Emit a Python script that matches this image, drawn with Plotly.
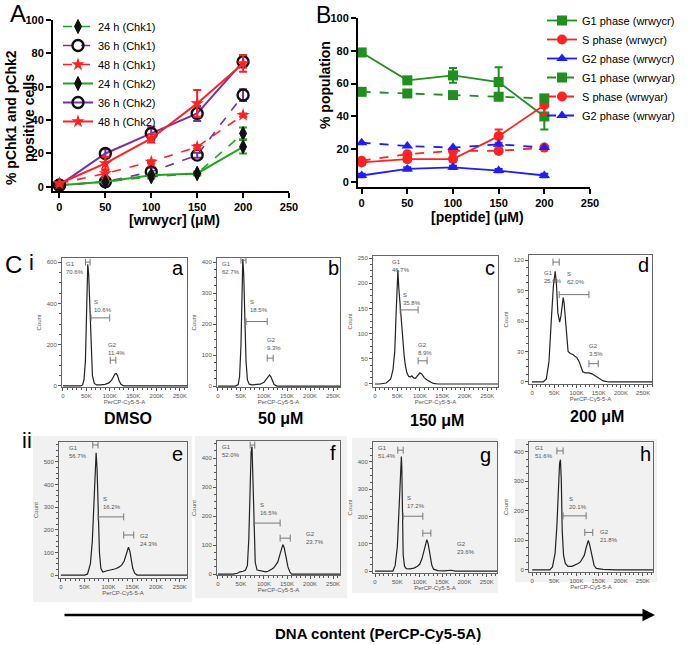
import plotly.graph_objects as go

W, H = 689, 645
FONT = "Arial, 'Liberation Sans', sans-serif"


def fx(p):
    return p / W


def fy(p):
    return 1 - p / H


# ---------------- panel A : % pChk1 / pChk2 positive cells
conc = [0, 50, 100, 150, 200]
chk1_24h = [1, 3, 6, 8, 32]
chk1_24h_err = [0, 0.5, 1, 1, 3.5]
chk1_36h = [1, 3, 9, 19, 55]
chk1_36h_err = [0, 1, 2.5, 1.5, 3.5]
chk1_48h = [2, 8, 15, 24, 43]
chk1_48h_err = [0, 2.5, 1, 1, 1]
chk2_24h = [1, 3, 7, 8, 24]
chk2_24h_err = [0, 0.5, 1, 1, 4]
chk2_36h = [1, 20, 32, 44, 75]
chk2_36h_err = [0, 2.5, 4, 4.5, 3.5]
chk2_48h = [2, 14, 29, 50, 74]
chk2_48h_err = [0, 4, 2.5, 8, 5]

# ---------------- panel B : % population per cell-cycle phase
peptide = [0, 50, 100, 150, 200]
g1_wrwycr = [79, 62, 65, 61, 40]
g1_wrwycr_err = [1.5, 1.5, 4.5, 9, 8]
s_wrwycr = [12, 14, 14, 28, 47]
s_wrwycr_err = [1.5, 1.5, 1.5, 4, 6]
g2_wrwycr = [4, 8, 9, 7, 4]
g2_wrwycr_err = [1, 1, 1, 1, 1]
g1_wrwyar = [55, 54, 53, 52, 51]
s_wrwyar = [13, 17, 19, 19, 21]
g2_wrwyar = [24, 22, 21, 23, 21]

# ---------------- panel C : DNA content histograms (x in K units, counts)
hist_a_k = [0, 38, 42, 45, 48, 50, 52, 53, 55, 57, 60, 63, 67, 72, 80, 90, 98, 104, 108, 111, 114, 117, 120, 124, 130, 150, 265]
hist_a_count = [0, 0, 5, 30, 120, 300, 520, 590, 540, 400, 180, 50, 12, 5, 5, 8, 15, 28, 45, 58, 60, 48, 25, 8, 0, 0, 0]
hist_b_k = [0, 38, 44, 47, 50, 52, 54, 56, 58, 61, 64, 68, 74, 82, 92, 100, 105, 109, 112, 115, 118, 122, 128, 140, 265]
hist_b_count = [0, 0, 5, 30, 130, 300, 410, 360, 220, 80, 20, 6, 4, 4, 6, 12, 22, 32, 36, 30, 16, 5, 0, 0, 0]
hist_c_k = [0, 10, 25, 35, 40, 44, 47, 50, 51, 53, 56, 58, 60, 62, 65, 68, 71, 75, 79, 82, 86, 90, 95, 100, 104, 110, 116, 123, 130, 140, 274]
hist_c_count = [0, 0, 2, 10, 28, 65, 140, 215, 226, 190, 155, 125, 110, 85, 55, 35, 22, 15, 14, 16, 12, 11, 17, 22, 20, 12, 8, 4, 1, 0, 0]
hist_d_k = [0, 25, 32, 38, 43, 48, 52, 55, 58, 62, 65, 68, 70, 72, 75, 78, 81, 86, 92, 97, 101, 106, 110, 114, 120, 128, 135, 142, 150, 160, 172, 270]
hist_d_count = [0, 0, 3, 20, 59, 95, 109, 95, 68, 59, 65, 80, 83, 78, 62, 42, 30, 28, 27, 25, 24, 20, 14, 10, 9, 9, 8, 6, 3, 1, 0, 0]
hist_e_k = [0, 50, 56, 62, 66, 69, 72, 74, 76, 78, 81, 84, 88, 95, 105, 115, 122, 128, 133, 137, 140, 142, 145, 148, 151, 155, 160, 265]
hist_e_count = [0, 0, 5, 50, 150, 330, 500, 540, 470, 300, 100, 30, 13, 18, 22, 28, 35, 45, 62, 95, 118, 123, 105, 66, 30, 8, 0, 0]
hist_f_k = [0, 33, 42, 48, 55, 60, 64, 67, 70, 72, 74, 76, 78, 81, 85, 92, 98, 104, 109, 115, 120, 125, 130, 135, 139, 141, 144, 148, 152, 156, 160, 265]
hist_f_count = [0, 0, 3, 8, 10, 14, 30, 120, 300, 420, 440, 330, 140, 40, 14, 12, 10, 8, 10, 15, 20, 30, 42, 70, 95, 102, 90, 55, 25, 8, 0, 0]
hist_g_k = [0, 40, 45, 50, 53, 56, 58, 59, 60, 61, 63, 66, 70, 78, 87, 95, 100, 105, 109, 113, 116, 119, 123, 127, 131, 140, 155, 170, 180, 273]
hist_g_count = [0, 0, 20, 89, 200, 350, 415, 420, 380, 215, 60, 18, 9, 8, 11, 18, 25, 45, 75, 105, 115, 100, 55, 22, 7, 2, 1, 3, 0, 0]
hist_h_k = [0, 40, 46, 52, 56, 59, 62, 64, 66, 68, 71, 75, 81, 90, 98, 104, 109, 114, 118, 122, 125, 127, 130, 133, 136, 140, 145, 160, 190, 273]
hist_h_count = [0, 0, 10, 57, 150, 280, 360, 373, 300, 133, 50, 22, 12, 12, 17, 22, 27, 38, 50, 75, 95, 100, 85, 60, 35, 15, 5, 2, 0, 0]

# gates: [start, end] in K, gate height in counts, percentages
gate_names = ["G1", "S", "G2"]
gates_a = [[48, 58], [60, 100], [101, 113]]
gates_a_y = [600, 330, 125]
pct_a = ["70.6%", "10.6%", "11.4%"]
gates_b = [[50, 61], [61, 107], [107, 120]]
gates_b_y = [406, 208, 90]
pct_b = ["62.7%", "18.5%", "9.3%"]
gates_c = [None, [56, 96], [96, 116]]
gates_c_y = [None, 147, 46]
pct_c = ["46.7%", "35.8%", "8.9%"]
gates_d = [[47, 61], [61, 128], [128, 149]]
gates_d_y = [118, 86, 18]
pct_d = ["25.6%", "62.0%", "3.5%"]
gates_e = [[67, 78], [78, 132], [132, 153]]
gates_e_y = [575, 257, 177]
pct_e = ["56.7%", "16.2%", "24.3%"]
gates_f = [[70, 80], [78, 135], [135, 157]]
gates_f_y = [445, 176, 124]
pct_f = ["52.0%", "16.5%", "23.7%"]
gates_g = [[51, 63], [63, 107], [107, 125]]
gates_g_y = [443, 201, 139]
pct_g = ["51.4%", "17.2%", "23.6%"]
gates_h = [[56, 70], [70, 122], [119, 137]]
gates_h_y = [403, 183, 127]
pct_h = ["51.6%", "20.1%", "21.8%"]

x_ticks = [0, 50, 100, 150, 200, 250]
x_tick_text = ["0", "50K", "100K", "150K", "200K", "250K"]

fig = go.Figure()

# ---- panel A
green, purple, red, blue = "#23a323", "#7b2fa6", "#ff2222", "#1f1ff5"
a_series = [
    ("24 h (Chk1)", chk1_24h, chk1_24h_err, green, "dash", "diamond-tall"),
    ("36 h (Chk1)", chk1_36h, chk1_36h_err, purple, "dash", "circle-open"),
    ("48 h (Chk1)", chk1_48h, chk1_48h_err, red, "dash", "star"),
    ("24 h (Chk2)", chk2_24h, chk2_24h_err, green, "solid", "diamond-tall"),
    ("36 h (Chk2)", chk2_36h, chk2_36h_err, purple, "solid", "circle-open"),
    ("48 h (Chk2)", chk2_48h, chk2_48h_err, red, "solid", "star"),
]
for name, y, err, col, dash, sym in a_series:
    if sym == "star":
        mk = dict(symbol=sym, size=10, color=col)
    elif sym == "circle-open":
        mk = dict(symbol=sym, size=11, color="#111", line=dict(width=2.4))
    else:
        mk = dict(symbol=sym, size=10, color="#111", line=dict(color="#111", width=1))
    fig.add_trace(go.Scatter(
        x=conc, y=y, name=name, mode="lines+markers",
        line=dict(color=col, dash=dash, width=1.6 if dash == "dash" else 2),
        marker=mk,
        error_y=dict(type="data", array=err, color=col, thickness=2, width=4),
        xaxis="x", yaxis="y", legend="legend"))

# ---- panel B
b_series = [
    ("G1 phase (wrwycr)", g1_wrwycr, g1_wrwycr_err, "#1f8f1f", "solid", "square"),
    ("S phase (wrwycr)", s_wrwycr, s_wrwycr_err, red, "solid", "circle"),
    ("G2 phase (wrwycr)", g2_wrwycr, g2_wrwycr_err, blue, "solid", "triangle-up"),
    ("G1 phase (wrwyar)", g1_wrwyar, None, "#1f8f1f", "dash", "square"),
    ("S phase (wrwyar)", s_wrwyar, None, red, "dash", "circle"),
    ("G2 phase (wrwyar)", g2_wrwyar, None, blue, "dash", "triangle-up"),
]
for name, y, err, col, dash, sym in b_series:
    fig.add_trace(go.Scatter(
        x=peptide, y=y, name=name, mode="lines+markers",
        line=dict(color=col, dash=dash, width=1.8),
        marker=dict(symbol=sym, size=10, color=col),
        error_y=dict(type="data", array=err, color=col, thickness=2, width=4,
                     visible=err is not None),
        xaxis="x2", yaxis="y2", legend="legend2"))

axis_font = dict(family=FONT, size=11, color="black", weight="bold")
common_ax = dict(showline=True, linewidth=2, linecolor="black", ticks="outside",
                 ticklen=5, tickwidth=2, tickcolor="black", showgrid=False,
                 zeroline=False, tickfont=axis_font, automargin=False)
fig.update_layout(
    xaxis=dict(domain=[fx(53), fx(289)], range=[-7, 250], tickvals=[0, 50, 100, 150, 200, 250],
               anchor="y", **common_ax),
    yaxis=dict(domain=[fy(191), fy(20)], range=[-2.5, 100], tickvals=[0, 20, 40, 60, 80, 100],
               anchor="x", **common_ax),
    xaxis2=dict(domain=[fx(358), fx(590)], range=[-4, 250], tickvals=[0, 50, 100, 150, 200, 250],
                anchor="y2", **common_ax),
    yaxis2=dict(domain=[fy(187), fy(18)], range=[-3, 100], tickvals=[0, 20, 40, 60, 80, 100],
                anchor="x2", **common_ax),
)

# ---- panel C histograms
hists = [
    (3, hist_a_k, hist_a_count, gates_a, gates_a_y, pct_a,
     [(2, 615), (62, 430), (92, 225)], (62, 187, 258, 387), [-2, 265], [-5, 620], 200),
    (4, hist_b_k, hist_b_count, gates_b, gates_b_y, pct_b,
     [(4, 410), (65, 288), (102, 166)], (217, 340, 258, 387), [-2, 265], [-3, 413], 100),
    (5, hist_c_k, hist_c_count, gates_c, gates_c_y, pct_c,
     [(33, 252), (58, 186), (92, 87)], (373, 498, 256, 387), [-4.5, 274], [-6, 254], 50),
    (6, hist_d_k, hist_d_count, gates_d, gates_d_y, pct_d,
     [(22, 112), (74, 111), (124, 40)], (529, 652, 255, 384), [-7, 270], [-2, 125], 30),
    (7, hist_e_k, hist_e_count, gates_e, gates_e_y, pct_e,
     [(13, 584), (84, 358), (162, 195)], (59, 187, 442, 578), [-4, 265], [-13, 588], 100),
    (8, hist_f_k, hist_f_count, gates_f, gates_f_y, pct_f,
     [(4, 455), (87, 255), (187, 155)], (217, 340, 441, 575), [-2, 265], [-3, 459], 100),
    (9, hist_g_k, hist_g_count, gates_g, gates_g_y, pct_g,
     [(2, 468), (67, 286), (179, 117)], (373, 497, 442, 573), [-4.5, 273], [-7, 473], 100),
    (10, hist_h_k, hist_h_count, gates_h, gates_h_y, pct_h,
     [(2, 428), (79, 257), (149, 147)], (529, 653, 442, 572), [-7, 273], [-7, 433], 100),
]
small = dict(family=FONT, size=6, color="#555")
annotations = []
for n, k, cnt, gx, gy, pct, lab, box, xr, yr, ystep in hists:
    xa, ya = f"x{n}", f"y{n}"
    fig.add_trace(go.Scatter(x=k, y=cnt, mode="lines", line=dict(color="#222", width=1.2),
                             showlegend=False, xaxis=xa, yaxis=ya, hoverinfo="skip"))
    for i in range(3):
        if gx[i] is None:
            continue
        fig.add_trace(go.Scatter(
            x=gx[i], y=[gy[i], gy[i]], mode="lines+markers",
            line=dict(color="#777", width=1),
            marker=dict(symbol="line-ns-open", size=5, color="#777", line=dict(width=1)),
            showlegend=False, xaxis=xa, yaxis=ya, hoverinfo="skip"))
    for i in range(3):
        annotations.append(dict(
            x=lab[i][0], y=lab[i][1], xref=xa, yref=ya, xanchor="left", yanchor="top",
            text=f"{gate_names[i]}<br>{pct[i]}", showarrow=False, align="left", font=small))
    x0, x1, yt, yb = box
    frame = dict(showline=True, linecolor="#666", linewidth=1, mirror=True, showgrid=False,
                 zeroline=False, ticks="outside", ticklen=3, tickcolor="#555", tickfont=small,
                 automargin=False)
    fig.update_layout(**{
        f"xaxis{n}": dict(domain=[fx(x0), fx(x1)], range=xr, anchor=ya, tickvals=x_ticks,
                          ticktext=x_tick_text,
                          minor=dict(tickmode="linear", tick0=0, dtick=10, ticklen=2,
                                     ticks="outside", tickcolor="#555"),
                          title=dict(text="PerCP-Cy5-5-A", font=small, standoff=0), **frame),
        f"yaxis{n}": dict(domain=[fy(yb), fy(yt)], range=yr, anchor=xa, dtick=ystep, tick0=0,
                          minor=dict(dtick=ystep / 4, ticklen=2, ticks="outside",
                                     tickcolor="#555"),
                          title=dict(text="Count", font=small, standoff=4), **frame),
    })

# gray backgrounds behind row ii
shapes = []
for x0, y0, x1, y1 in [(33, 436, 192, 602), (195, 436, 347, 598), (352, 438, 498, 593),
                       (515, 439, 657, 582)]:
    shapes.append(dict(type="rect", xref="paper", yref="paper", x0=fx(x0), x1=fx(x1),
                       y0=fy(y1), y1=fy(y0), fillcolor="#f1f1f1", line=dict(width=0),
                       layer="below"))


def label(x, y, text, size, bold=False, angle=0):
    t = f"<b>{text}</b>" if bold else text
    annotations.append(dict(x=fx(x), y=fy(y), xref="paper", yref="paper", text=t,
                            xanchor="center", yanchor="middle",
                            showarrow=False, textangle=angle,
                            font=dict(family=FONT, size=size, color="black")))


label(18, 13, "A", 24)
label(323, 15, "B", 23)
label(13, 264, "C", 24)
label(31, 263, "i", 22)
label(27, 441, "ii", 22)
label(11, 118, "% pChk1 and pChk2", 14, True, -90)
label(29, 118, "positive cells", 14, True, -90)
label(174, 220, "[wrwycr] (μM)", 14, True)
label(325, 85, "% population", 14, True, -90)
label(477, 217, "[peptide] (μM)", 14, True)
for x, y, t in [(178, 268, "a"), (333, 268, "b"), (490, 268, "c"), (643, 265, "d"),
                (177, 454, "e"), (333, 453, "f"), (485, 455, "g"), (645, 454, "h")]:
    label(x, y, t, 20)
for x, y, t in [(128, 418, "DMSO"), (280, 418, "50 μM"), (437, 420, "150 μM"),
                (597, 417, "200 μM")]:
    label(x, y, t, 16, True)
label(378, 633, "DNA content (PerCP-Cy5-5A)", 15, True)
annotations.append(dict(x=fx(655), y=fy(615), xref="paper", yref="paper", ax=-592, ay=0,
                        axref="pixel", ayref="pixel", text="", showarrow=True,
                        arrowhead=2, arrowsize=1, arrowwidth=2.5, arrowcolor="black"))

fig.update_layout(
    template="none",
    width=W, height=H, margin=dict(l=0, r=0, t=0, b=0, pad=0),
    paper_bgcolor="white", plot_bgcolor="rgba(0,0,0,0)",
    font=dict(family=FONT, color="black"),
    annotations=annotations, shapes=shapes,
    legend=dict(x=fx(58), y=fy(12), xanchor="left", yanchor="top", bgcolor="rgba(0,0,0,0)",
                font=dict(family=FONT, size=11), itemwidth=30, tracegroupgap=0),
    legend2=dict(x=fx(542), y=fy(6), xanchor="left", yanchor="top", bgcolor="rgba(0,0,0,0)",
                 font=dict(family=FONT, size=11), itemwidth=30, tracegroupgap=0),
)

# page body margin off so the figure sits at the window's top-left corner
fig.write_html("out.html", config={"displayModeBar": False},
               post_script="document.body.style.margin = '0';")
